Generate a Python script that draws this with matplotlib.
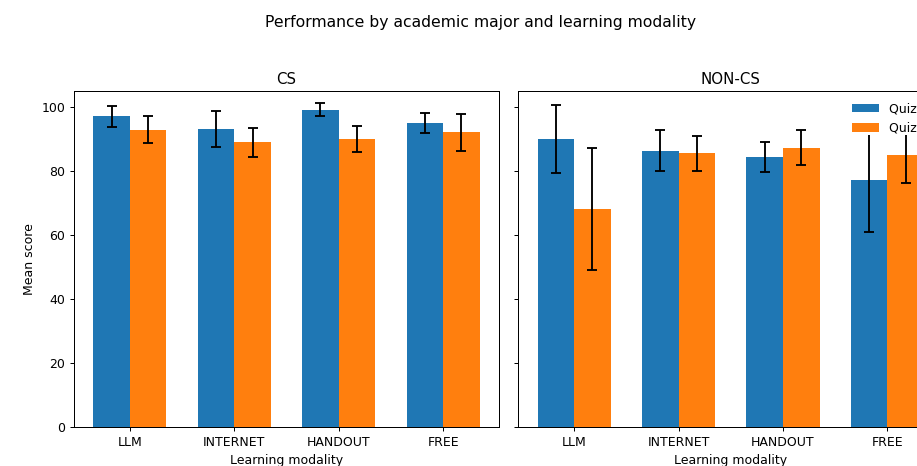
import numpy as np
import matplotlib
matplotlib.use("Agg")
import matplotlib.pyplot as plt

modalities = ["LLM", "INTERNET", "HANDOUT", "FREE"]
majors = ["CS", "NON-CS"]
series_labels = ["Quiz 1", "Quiz 2"]

# mean scores per modality: [major][quiz]
cs_quiz1_mean = [97.1, 93.2, 99.2, 95.0]
cs_quiz2_mean = [92.9, 89.0, 90.0, 92.1]
noncs_quiz1_mean = [90.0, 86.4, 84.5, 77.3]
noncs_quiz2_mean = [68.2, 85.5, 87.3, 85.1]

# error bar half-lengths
cs_quiz1_err = [3.2, 5.7, 1.9, 3.25]
cs_quiz2_err = [4.2, 4.5, 4.1, 5.75]
noncs_quiz1_err = [10.6, 6.5, 4.7, 16.5]
noncs_quiz2_err = [19.0, 5.5, 5.4, 8.9]

panels = {
    "CS": ((cs_quiz1_mean, cs_quiz1_err), (cs_quiz2_mean, cs_quiz2_err)),
    "NON-CS": ((noncs_quiz1_mean, noncs_quiz1_err), (noncs_quiz2_mean, noncs_quiz2_err)),
}

W, H, DPI = 918, 466, 90
fig = plt.figure(figsize=(W / DPI, H / DPI), dpi=DPI)

ax_w = 425 / W
ax_b = (H - 427) / H
ax_h = 336 / H
ax_left = fig.add_axes([74 / W, ax_b, ax_w, ax_h])
ax_right = fig.add_axes([518.3 / W, ax_b, ax_w, ax_h], sharey=ax_left)
axes = [ax_left, ax_right]

x = np.arange(len(modalities))
width = 0.35
err_style = dict(elinewidth=1.5, capthick=1.5)

for ax, major in zip(axes, majors):
    (m1, e1), (m2, e2) = panels[major]
    ax.bar(x - width / 2, m1, width, yerr=e1, capsize=4, ecolor="black",
           error_kw=err_style, label=series_labels[0])
    ax.bar(x + width / 2, m2, width, yerr=e2, capsize=4, ecolor="black",
           error_kw=err_style, label=series_labels[1])
    ax.set_xticks(x)
    ax.set_xticklabels(modalities)
    ax.set_title(major)
    ax.set_xlabel("Learning modality")

ax_left.set_ylim(0, 105)
ax_left.set_ylabel("Mean score")
plt.setp(ax_right.get_yticklabels(), visible=False)
leg = ax_right.legend(loc="upper right", bbox_to_anchor=(0.993, 1.0),
                      framealpha=1.0, borderpad=0.0, borderaxespad=0.9,
                      handlelength=2.2)
leg.get_frame().set_edgecolor("none")

fig.suptitle("Performance by academic major and learning modality",
             x=481 / W, y=1 - 22 / H, va="center", fontsize=12.5)

fig.savefig("out.png", dpi=DPI)
